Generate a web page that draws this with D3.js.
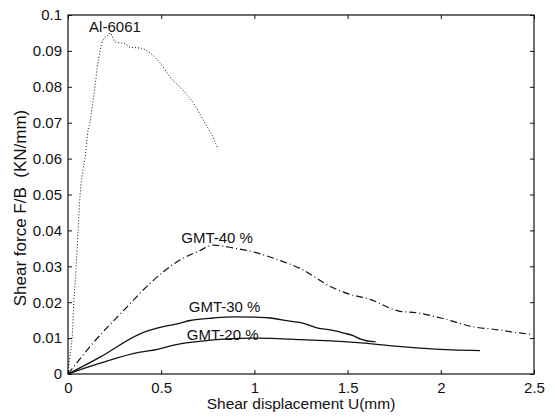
<!DOCTYPE html>
<html><head><meta charset="utf-8">
<script src="https://cdn.jsdelivr.net/npm/d3@7"></script>
<style>body{margin:0;background:#fff}svg{display:block}</style>
</head><body>
<svg id="c" width="555" height="420"></svg>
<script>
const xTicks = [0, 0.5, 1, 1.5, 2, 2.5];
const xTickLabels = ["0", "0.5", "1", "1.5", "2", "2.5"];
const yTicks = [0, 0.01, 0.02, 0.03, 0.04, 0.05, 0.06, 0.07, 0.08, 0.09, 0.1];
const yTickLabels = ["0", "0.01", "0.02", "0.03", "0.04", "0.05", "0.06", "0.07", "0.08", "0.09", "0.1"];

const al6061X = [0, 0.011, 0.022, 0.032, 0.043, 0.054, 0.065, 0.081, 0.091, 0.108, 0.118, 0.134, 0.145, 0.156, 0.172, 0.188, 0.215, 0.226, 0.253, 0.306, 0.333, 0.387, 0.441, 0.495, 0.548, 0.618, 0.672, 0.726, 0.763, 0.801];
const al6061Y = [0, 0.0053, 0.010, 0.0206, 0.029, 0.040, 0.050, 0.057, 0.060, 0.068, 0.070, 0.076, 0.080, 0.085, 0.090, 0.093, 0.0944, 0.095, 0.0925, 0.092, 0.091, 0.0908, 0.0894, 0.0866, 0.0827, 0.079, 0.0755, 0.0707, 0.0674, 0.0632];

const gmt40X = [0, 0.134, 0.317, 0.441, 0.602, 0.70, 0.78, 0.887, 0.995, 1.10, 1.26, 1.41, 1.5, 1.62, 1.77, 1.876, 2.0, 2.18, 2.31, 2.38, 2.48];
const gmt40Y = [0, 0.0086, 0.0187, 0.0253, 0.0318, 0.0342, 0.0359, 0.0351, 0.034, 0.0323, 0.029, 0.0243, 0.0224, 0.0208, 0.0176, 0.017, 0.0156, 0.0131, 0.0123, 0.0117, 0.0111];

const gmt30X = [0, 0.172, 0.387, 0.44, 0.602, 0.656, 0.78, 0.887, 1.03, 1.086, 1.19, 1.26, 1.34, 1.41, 1.48, 1.53, 1.57, 1.64, 1.65];
const gmt30Y = [0, 0.0047, 0.0112, 0.0122, 0.0142, 0.0149, 0.0156, 0.0159, 0.0158, 0.0156, 0.0147, 0.0142, 0.0128, 0.0123, 0.0114, 0.0107, 0.0097, 0.0090, 0.0090];

const gmt20X = [0, 0.172, 0.387, 0.44, 0.602, 0.656, 0.78, 0.978, 1.247, 1.41, 1.48, 1.59, 1.77, 1.95, 2.21];
const gmt20Y = [0, 0.003, 0.0061, 0.0065, 0.0084, 0.0088, 0.0095, 0.010, 0.0096, 0.0092, 0.009, 0.0086, 0.0077, 0.007, 0.0065];

const seriesNames = ["Al-6061", "GMT-40 %", "GMT-30 %", "GMT-20 %"];
const labelPos = [[0.252, 0.0953], [0.80, 0.0365], [0.84, 0.0173], [0.83, 0.0095]];

const svg = d3.select("#c");
const L = 68, R = 534, T = 15, B = 374;
const x = d3.scaleLinear().domain([0, 2.5]).range([L, R]);
const y = d3.scaleLinear().domain([0, 0.1]).range([B, T]);
const font = "'Liberation Sans', Arial, sans-serif";

// frame
svg.append("rect").attr("x", L).attr("y", T).attr("width", R - L).attr("height", B - T)
  .attr("fill", "none").attr("stroke", "#111").attr("stroke-width", 1.2);

// axes
const xAxis = d3.axisBottom(x).tickValues(xTicks).tickFormat((d, i) => xTickLabels[i]).tickSizeInner(-4).tickSizeOuter(0).tickPadding(8);
const gx = svg.append("g").attr("transform", `translate(0,${B})`).call(xAxis);
const yAxis = d3.axisLeft(y).tickValues(yTicks).tickFormat((d, i) => yTickLabels[i]).tickSizeInner(-4).tickSizeOuter(0).tickPadding(6);
const gy = svg.append("g").attr("transform", `translate(${L},0)`).call(yAxis);
const gxt = svg.append("g").attr("transform", `translate(0,${T})`).call(d3.axisTop(x).tickValues(xTicks).tickFormat("").tickSizeInner(-4).tickSizeOuter(0));
const gyr = svg.append("g").attr("transform", `translate(${R},0)`).call(d3.axisRight(y).tickValues(yTicks).tickFormat("").tickSizeInner(-4).tickSizeOuter(0));
[gx, gy, gxt, gyr].forEach(g => {
  g.select(".domain").remove();
  g.selectAll("line").attr("stroke", "#111");
  g.selectAll("text").attr("font-family", font).attr("font-size", 15).attr("fill", "#111");
});

const line = d3.line().x(d => x(d[0])).y(d => y(d[1])).curve(d3.curveMonotoneX);
const zip = (a, b) => a.map((v, i) => [v, b[i]]);
const series = [
  {d: zip(al6061X, al6061Y), dash: "1,2", w: 1},
  {d: zip(gmt40X, gmt40Y), dash: "7,3,1,3", w: 1.2},
  {d: zip(gmt30X, gmt30Y), dash: null, w: 1.3},
  {d: zip(gmt20X, gmt20Y), dash: null, w: 1.3}
];
series.forEach(s => {
  svg.append("path").attr("d", line(s.d)).attr("fill", "none").attr("stroke", "#111")
    .attr("stroke-width", s.w).attr("stroke-dasharray", s.dash);
});

seriesNames.forEach((n, i) => {
  svg.append("text").attr("x", x(labelPos[i][0])).attr("y", y(labelPos[i][1]))
    .attr("text-anchor", "middle").attr("font-family", font).attr("font-size", 15).attr("fill", "#111").text(n);
});

svg.append("text").attr("x", 301).attr("y", 409).attr("text-anchor", "middle")
  .attr("font-family", font).attr("font-size", 15.5).attr("fill", "#111").text("Shear displacement U(mm)");
svg.append("text").attr("transform", "translate(26,208) rotate(-90)").attr("text-anchor", "middle")
  .attr("font-family", font).attr("font-size", 17).attr("fill", "#111").attr("xml:space", "preserve").text("Shear force F/B  (KN/mm)");
</script>
</body></html>
